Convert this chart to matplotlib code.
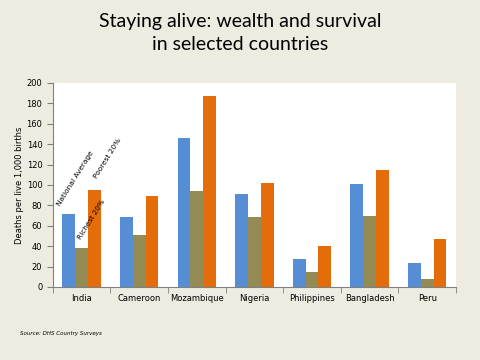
import numpy as np
import matplotlib
matplotlib.use('Agg')
import matplotlib.pyplot as plt

# Under-5 mortality by wealth group (deaths per live 1,000 births)
countries = ['India', 'Cameroon', 'Mozambique', 'Nigeria', 'Philippines', 'Bangladesh', 'Peru']
national_average = [72, 69, 146, 91, 27, 101, 24]
richest_20 = [38, 51, 94, 69, 15, 70, 8]
poorest_20 = [95, 89, 187, 102, 40, 115, 47]

bg = '#EEECE1'
colors = ['#558ED5', '#948A54', '#E46C0A']

fig = plt.figure(figsize=(4.8, 3.6), dpi=100, facecolor=bg)
ax = fig.add_axes([0.110, 0.2028, 0.840, 0.5667])
ax.set_facecolor('white')

x = np.arange(len(countries))
w = 1 / 1.5 / 3  # gap width 50%
ax.bar(x - w, national_average, w, color=colors[0])
ax.bar(x, richest_20, w, color=colors[1])
ax.bar(x + w, poorest_20, w, color=colors[2])

ax.set_xlim(-0.5, len(countries) - 0.5)
ax.set_ylim(0, 200)
ax.set_yticks(range(0, 201, 20))
ax.set_xticks(x)
ax.set_xticklabels(countries)
ax.set_xticks(np.arange(-0.5, len(countries)), minor=True)
ax.tick_params(axis='x', which='major', length=0, labelsize=6, pad=5)
ax.tick_params(axis='x', which='minor', length=4, color='#808080', direction='out')
ax.tick_params(axis='y', length=4, color='#808080', direction='out', labelsize=6)

for s in ['top', 'right']:
    ax.spines[s].set_visible(False)
for s in ['left', 'bottom']:
    ax.spines[s].set_color('#808080')
    ax.spines[s].set_linewidth(0.8)

ax.set_ylabel('Deaths per live 1,000 births', fontsize=6, labelpad=2)

# series labels over the India group
ax.text(-0.35, 78, 'National Average', rotation=58, fontsize=5.3, ha='left', va='bottom', rotation_mode='anchor')
ax.text(0.28, 105, 'Poorest 20%', rotation=58, fontsize=5.3, ha='left', va='bottom', rotation_mode='anchor')
ax.text(0.0, 46, 'Richest 20%', rotation=58, fontsize=5.3, ha='left', va='bottom', rotation_mode='anchor')

fig.text(0.5, 0.965, 'Staying alive: wealth and survival\nin selected countries',
         ha='center', va='top', fontsize=14, family='Lato', linespacing=1.45)
fig.text(0.042, 0.075, 'Source: DHS Country Surveys', fontsize=4, style='italic', ha='left', va='center')

fig.savefig('out.png', dpi=100, facecolor=bg)
